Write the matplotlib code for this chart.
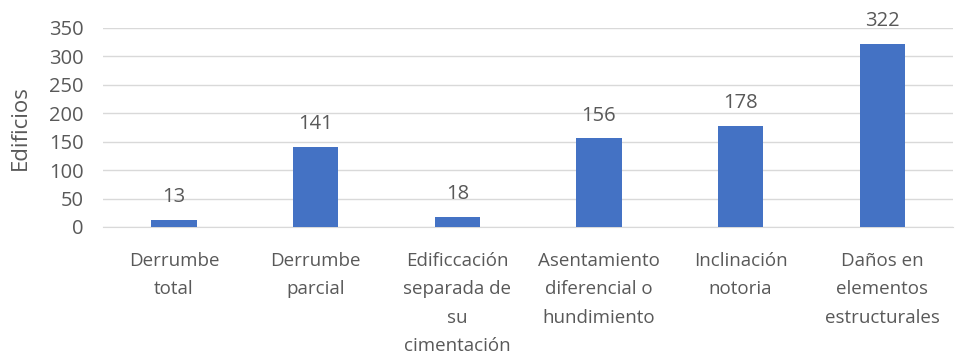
import matplotlib.pyplot as plt
import numpy as np

categorias = ["Derrumbe\ntotal", "Derrumbe\nparcial", "Edificcación\nseparada de\nsu\ncimentación",
              "Asentamiento\ndiferencial o\nhundimiento", "Inclinación\nnotoria",
              "Daños en\nelementos\nestructurales"]
edificios = [13, 141, 18, 156, 178, 322]
yticks = [0, 50, 100, 150, 200, 250, 300, 350]

bar_color = "#4472C4"
txt_color = "#595959"
plt.rcParams['font.family'] = ['Open Sans', 'DejaVu Sans']

fig = plt.figure(figsize=(9.55, 3.58), dpi=100)
ax = fig.add_axes([0.108, 0.366, 0.89, 0.556])

x = np.arange(len(categorias))
bars = ax.bar(x, edificios, width=0.32, color=bar_color, zorder=3)
for xi, v in zip(x, edificios):
    ax.text(xi, v + 22, str(v), ha='center', va='bottom', fontsize=14.5, color=txt_color)

ax.set_xlim(-0.5, len(categorias) - 0.5)
ax.set_ylim(0, 350)
ax.set_yticks(yticks)
ax.set_xticks(x)
ax.set_xticklabels(categorias, fontsize=13.5, color=txt_color, linespacing=1.75)
ax.tick_params(axis='y', labelsize=14.5, colors=txt_color, length=0, pad=14)
ax.tick_params(axis='x', length=0, pad=18)
ax.grid(axis='y', color='#d9d9d9', linewidth=1, zorder=0)
for s in ['top', 'right', 'left']:
    ax.spines[s].set_visible(False)
ax.spines['bottom'].set_color('#d9d9d9')
ax.set_ylabel("Edificios", fontsize=16, color=txt_color, labelpad=13)

fig.savefig("out.png", dpi=100)
